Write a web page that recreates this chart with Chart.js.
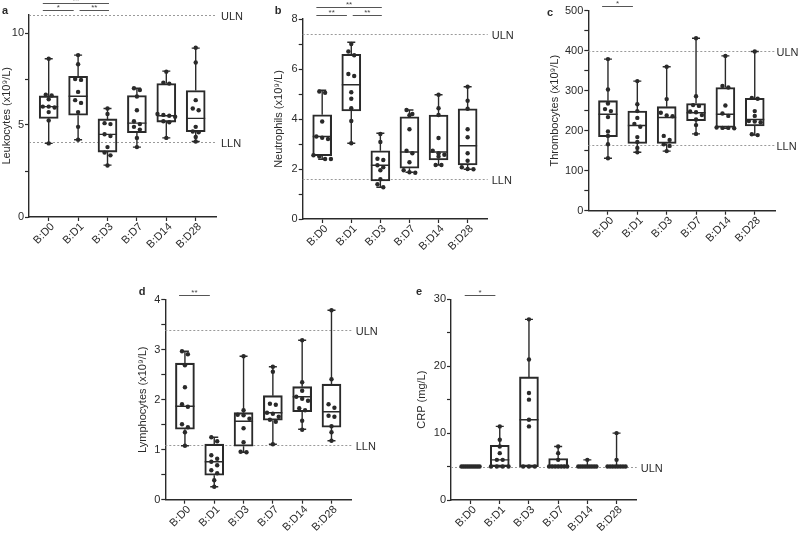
<!DOCTYPE html>
<html>
<head>
<meta charset="utf-8">
<script src="https://cdn.jsdelivr.net/npm/chart.js@4.4.1/dist/chart.umd.min.js"></script>
<style>
  html, body { margin: 0; padding: 0; background: #fff; }
  #wrap { position: relative; width: 798px; height: 533px; overflow: hidden; }
  canvas { position: absolute; }
</style>
</head>
<body>
<div id="wrap">
  <canvas id="panelA"></canvas>
  <canvas id="panelB"></canvas>
  <canvas id="panelC"></canvas>
  <canvas id="panelD"></canvas>
  <canvas id="panelE"></canvas>
</div>
<script>
// Categories (time points)
const categories = ['B:D0', 'B:D1', 'B:D3', 'B:D7', 'B:D14', 'B:D28'];

// Box stats per time point: [min, q1, median, q3, max]
const leukoStats = [[4.0, 5.36, 6.0, 6.58, 8.6], [4.2, 5.53, 6.56, 7.65, 8.8], [2.82, 3.53, 4.49, 5.33, 5.9],
                    [3.8, 4.58, 5.1, 6.6, 7.0], [4.3, 5.16, 5.5, 7.25, 7.93], [4.1, 4.64, 5.36, 6.87, 9.18]];
const leukoPoints = [
  [8.6, 6.65, 6.6, 6.4, 6.0, 6.0, 5.95, 5.7, 5.25, 4.0],
  [8.8, 8.3, 7.5, 7.45, 6.8, 6.35, 6.2, 5.7, 4.9, 4.2],
  [5.9, 5.6, 5.1, 5.05, 4.5, 4.4, 3.8, 3.5, 3.35, 2.8],
  [7.0, 6.9, 6.55, 5.8, 5.2, 5.05, 4.9, 4.75, 4.3, 3.8],
  [7.9, 7.3, 7.25, 5.6, 5.55, 5.5, 5.45, 5.2, 5.15, 4.3],
  [9.2, 8.4, 6.35, 5.9, 5.8, 4.9, 4.65, 4.6, 4.35, 4.1]
];

const neutroStats = [[2.39, 2.53, 3.3, 4.17, 5.15], [3.03, 4.32, 5.37, 6.59, 7.07], [1.27, 1.52, 2.15, 2.73, 3.43],
                     [1.87, 2.03, 2.68, 4.09, 4.36], [2.16, 2.36, 2.68, 4.16, 4.97], [1.99, 2.16, 2.93, 4.41, 5.29]];
const neutroPoints = [
  [5.1, 5.05, 3.9, 3.3, 3.25, 3.2, 2.55, 2.5, 2.4, 2.4],
  [7.0, 6.7, 6.55, 5.8, 5.72, 5.07, 4.81, 4.43, 3.92, 3.03],
  [3.4, 3.08, 2.41, 2.36, 2.15, 2.07, 1.95, 1.59, 1.39, 1.27],
  [4.36, 4.2, 4.15, 3.59, 2.73, 2.63, 2.27, 1.95, 1.87, 1.85],
  [4.97, 4.43, 4.16, 3.24, 2.73, 2.63, 2.57, 2.5, 2.16, 2.16],
  [5.29, 4.73, 4.41, 3.59, 3.27, 2.63, 2.33, 2.07, 2.0, 1.99]
];

const thromboStats = [[131, 185, 241, 275, 379], [146, 168, 213, 249, 324], [149, 168, 233, 260, 360],
                      [192, 225, 245, 268, 431], [206, 208, 241, 308, 387], [189, 212, 228, 281, 398]];
const thromboPoints = [
  [379, 303, 268, 254, 249, 234, 198, 187, 166, 131],
  [324, 266, 249, 232, 217, 210, 184, 172, 157, 146],
  [360, 279, 245, 238, 236, 187, 177, 166, 162, 149],
  [431, 286, 264, 262, 248, 246, 239, 228, 214, 192],
  [387, 312, 308, 263, 243, 237, 208, 207, 207, 206],
  [398, 282, 280, 249, 237, 224, 223, 221, 191, 189]
];

const lymphoStats = [[1.08, 1.41, 1.87, 2.73, 2.97], [0.26, 0.49, 0.76, 1.11, 1.25], [0.95, 1.07, 1.57, 1.74, 2.87],
                     [1.11, 1.59, 1.74, 2.08, 2.66], [1.41, 1.76, 2.06, 2.26, 3.19], [1.18, 1.45, 1.76, 2.31, 3.79]];
const lymphoPoints = [
  [2.97, 2.91, 2.69, 2.25, 1.91, 1.86, 1.51, 1.45, 1.35, 1.08],
  [1.25, 1.17, 0.89, 0.82, 0.76, 0.69, 0.59, 0.53, 0.39, 0.26],
  [2.87, 1.79, 1.7, 1.69, 1.62, 1.43, 1.15, 0.96, 0.95],
  [2.66, 2.56, 1.92, 1.9, 1.74, 1.72, 1.66, 1.6, 1.56, 1.11],
  [3.19, 2.35, 2.18, 2.06, 2.02, 1.98, 1.83, 1.79, 1.58, 1.4],
  [3.79, 2.41, 1.91, 1.84, 1.68, 1.66, 1.47, 1.35, 1.18]
];

const crpStats = [[5, 5, 5, 5, 5], [5, 5, 6, 8.17, 11], [5, 5, 12, 18.4, 27],
                  [5, 5, 5, 6.2, 8], [5, 5, 5, 5, 6], [5, 5, 5, 5, 10]];
const crpPoints = [
  [5, 5, 5, 5, 5, 5, 5, 5, 5, 5],
  [11, 9, 8, 7, 6, 6, 5, 5, 5, 5],
  [27, 21, 16, 15, 12, 11, 5, 5, 5],
  [8, 7, 6, 5, 5, 5, 5, 5, 5, 5],
  [6, 5, 5, 5, 5, 5, 5, 5, 5, 5],
  [10, 6, 5, 5, 5, 5, 5, 5, 5, 5]
];

// Axis ticks and which of them carry a label
const leukoTicks = [0, 2.5, 5, 7.5, 10];
const leukoLabels = [0, 5, 10];
const neutroTicks = [0, 1, 2, 3, 4, 5, 6, 7, 8];
const neutroLabels = [0, 2, 4, 6, 8];
const thromboTicks = [0, 50, 100, 150, 200, 250, 300, 350, 400, 450, 500];
const thromboLabels = [0, 100, 200, 300, 400, 500];
const lymphoTicks = [0, 0.5, 1, 1.5, 2, 2.5, 3, 3.5, 4];
const lymphoLabels = [0, 1, 2, 3, 4];
const crpTicks = [0, 5, 10, 15, 20, 25, 30];
const crpLabels = [0, 10, 20, 30];

// Reference limits (upper / lower limit of normal)
const leukoLimits = [[11, 'ULN'], [4.1, 'LLN']];
const neutroLimits = [[7.4, 'ULN'], [1.6, 'LLN']];
const thromboLimits = [[400, 'ULN'], [165, 'LLN']];
const lymphoLimits = [[3.4, 'ULN'], [1.1, 'LLN']];
const crpLimits = [[5, 'ULN']];

// Significance brackets: [from, to, label, level]
const leukoSig = [[0, 1, '*', 0], [1, 2, '**', 0], [0, 2, '**', 1]];
const neutroSig = [[0, 1, '**', 0], [1, 2, '**', 0], [0, 2, '**', 1]];
const thromboSig = [[0, 1, '*', 0]];
const lymphoSig = [[0, 1, '**', 0]];
const crpSig = [[0, 1, '*', 0]];

const ink = '#2a2a2a';
const fontFamily = "'Liberation Sans', Arial, Helvetica, sans-serif";

// spread points with (nearly) equal values sideways, like a scatter dot plot
function spreadPoints(values, range) {
  const sorted = values.slice().sort((a, b) => b - a);
  const out = [];
  let k = 0;
  while (k < sorted.length) {
    let j = k;
    while (j + 1 < sorted.length && sorted[k] - sorted[j + 1] < range * 0.022) j++;
    const n = j - k + 1;
    const step = n > 1 ? Math.min(0.2, 0.62 / (n - 1)) : 0;
    for (let m = 0; m < n; m++) out.push({ off: (m - (n - 1) / 2) * step, v: sorted[k + m] });
    k = j + 1;
  }
  return out;
}

function overlayPlugin(p) {
  return {
    id: 'overlay_' + p.id,
    beforeDatasetsDraw(chart) {
      const { ctx, chartArea, scales } = chart;
      ctx.save();
      ctx.strokeStyle = '#9a9a9a';
      ctx.lineWidth = 1;
      ctx.setLineDash([2, 2]);
      ctx.fillStyle = ink;
      ctx.font = '11px ' + fontFamily;
      ctx.textBaseline = 'middle';
      p.limits.forEach(([v, label]) => {
        const y = Math.round(scales.y.getPixelForValue(v)) + 0.5;
        ctx.beginPath();
        ctx.moveTo(chartArea.left, y);
        ctx.lineTo(chartArea.right, y);
        ctx.stroke();
        ctx.fillText(label, chartArea.right + p.g.lgap, y + 1);
      });
      ctx.restore();
    },
    afterDatasetDraw(chart, args) {
      if (args.index !== 0) return;
      const { ctx, scales } = chart;
      ctx.save();
      ctx.strokeStyle = ink;
      ctx.lineWidth = 1.4;
      p.stats.forEach((s, i) => {
        const x = scales.x.getPixelForValue(i);
        const yMin = scales.y.getPixelForValue(s[0]);
        const yQ1 = scales.y.getPixelForValue(s[1]);
        const yMed = scales.y.getPixelForValue(s[2]);
        const yQ3 = scales.y.getPixelForValue(s[3]);
        const yMax = scales.y.getPixelForValue(s[4]);
        ctx.beginPath();
        ctx.moveTo(x, yQ3); ctx.lineTo(x, yMax);
        ctx.moveTo(x - 4, yMax); ctx.lineTo(x + 4, yMax);
        ctx.moveTo(x, yQ1); ctx.lineTo(x, yMin);
        ctx.moveTo(x - 4, yMin); ctx.lineTo(x + 4, yMin);
        ctx.moveTo(x - 9.5, yMed); ctx.lineTo(x + 9.5, yMed);
        ctx.stroke();
      });
      ctx.restore();
    },
    afterDraw(chart) {
      const { ctx, chartArea, scales } = chart;
      ctx.save();
      // rotated category labels under each tick
      ctx.fillStyle = ink;
      ctx.font = '11px ' + fontFamily;
      ctx.textAlign = 'right';
      ctx.textBaseline = 'middle';
      categories.forEach((c, i) => {
        const x = scales.x.getPixelForValue(i);
        ctx.save();
        ctx.translate(x + 4, chartArea.bottom + 8);
        ctx.rotate(-Math.PI / 4);
        ctx.fillText(c, 0, 0);
        ctx.restore();
      });

      ctx.strokeStyle = '#555';
      ctx.fillStyle = '#444';
      ctx.lineWidth = 1;
      ctx.font = '8px ' + fontFamily;
      ctx.textAlign = 'center';
      ctx.textBaseline = 'bottom';
      p.sig.forEach(([i, j, label, level]) => {
        const x1 = scales.x.getPixelForValue(i === 0 ? i - 0.2 : i + 0.05);
        const x2 = scales.x.getPixelForValue(i === 0 && level === 0 ? j - 0.15 : j + 0.05);
        const y = Math.round(chartArea.top - 4.5 - level * 7.5) + 0.5;
        ctx.beginPath();
        ctx.moveTo(x1, y);
        ctx.lineTo(x2, y);
        ctx.stroke();
        ctx.fillText(label, (x1 + x2) / 2, y + 1);
      });
      ctx.fillStyle = ink;
      ctx.font = 'bold 11px ' + fontFamily;
      ctx.textBaseline = 'middle';
      ctx.fillText(p.letter, p.g.lx, p.g.ly);
      ctx.restore();
    }
  };
}

function makePanel(p) {
  const g = p.g;
  const canvas = document.getElementById(p.id);
  canvas.width = g.w;
  canvas.height = g.h;
  canvas.style.left = g.left + 'px';
  canvas.style.top = g.top + 'px';

  const yRange = p.yTicks[p.yTicks.length - 1] - p.yTicks[0];
  const boxes = p.stats.map((s, i) => ({ x: i, y: [s[1], s[3]] }));
  const dots = [];
  p.points.forEach((vals, i) => {
    spreadPoints(vals, yRange).forEach(o => dots.push({ x: i + o.off, y: o.v }));
  });

  const tickFont = { family: fontFamily, size: 11 };

  new Chart(canvas, {
    type: 'bar',
    data: {
      datasets: [
        {
          type: 'bar',
          data: boxes,
          barThickness: 19,
          backgroundColor: 'rgba(0,0,0,0)',
          borderColor: ink,
          borderWidth: 1.4,
          borderSkipped: false,
          order: 2
        },
        {
          type: 'scatter',
          data: dots,
          pointRadius: 2.2,
          pointBackgroundColor: ink,
          pointBorderWidth: 0,
          order: 1
        }
      ]
    },
    options: {
      responsive: false,
      animation: false,
      devicePixelRatio: 1,
      events: [],
      layout: { padding: { left: g.padL, right: g.w - g.cr, top: g.ct, bottom: 0 } },
      plugins: { legend: { display: false }, tooltip: { enabled: false } },
      scales: {
        x: {
          type: 'linear',
          min: -0.67,
          max: 5.69,
          offset: false,
          afterBuildTicks: s => { s.ticks = categories.map((c, i) => ({ value: i })); },
          afterFit: s => { s.height = g.h - g.cb; },
          ticks: { callback: () => '', autoSkip: false },
          grid: { drawOnChartArea: false, offset: false, tickLength: 4, color: ink, tickWidth: 1.2 },
          border: { color: ink, width: 1.4 }
        },
        y: {
          type: 'linear',
          min: p.yTicks[0],
          max: p.yMax,
          afterBuildTicks: s => { s.ticks = p.yTicks.map(v => ({ value: v })); },
          afterFit: s => { s.width = g.cl - g.padL; },
          ticks: {
            callback: v => (p.yLabels.includes(v) ? String(v) : ''),
            font: tickFont,
            color: ink,
            padding: 1
          },
          grid: { drawOnChartArea: false, tickLength: 4, color: ink, tickWidth: 1.2 },
          border: { color: ink, width: 1.4 },
          title: {
            display: true,
            text: p.title,
            font: { family: fontFamily, size: 11 },
            color: ink,
            padding: 0
          }
        }
      }
    },
    plugins: [overlayPlugin(p)]
  });
}

makePanel({
  id: 'panelA', letter: 'a', title: 'Leukocytes (x10\u2079/L)',
  stats: leukoStats, points: leukoPoints, yTicks: leukoTicks, yLabels: leukoLabels, yMax: 11,
  limits: leukoLimits, sig: leukoSig,
  g: { left: 0, top: 0, w: 265, h: 265, padL: 0, cl: 29, cr: 216, ct: 14.6, cb: 217, lx: 5, ly: 11, lgap: 5 }
});
makePanel({
  id: 'panelB', letter: 'b', title: 'Neutrophils (x10\u2079/L)',
  stats: neutroStats, points: neutroPoints, yTicks: neutroTicks, yLabels: neutroLabels, yMax: 8,
  limits: neutroLimits, sig: neutroSig,
  g: { left: 265, top: 0, w: 265, h: 265, padL: 7, cl: 37.7, cr: 222.7, ct: 19, cb: 219, lx: 13, ly: 11, lgap: 4 }
});
makePanel({
  id: 'panelC', letter: 'c', title: 'Thrombocytes (x10\u2079/L)',
  stats: thromboStats, points: thromboPoints, yTicks: thromboTicks, yLabels: thromboLabels, yMax: 500,
  limits: thromboLimits, sig: thromboSig,
  g: { left: 530, top: 0, w: 268, h: 265, padL: 18, cl: 58.3, cr: 245, ct: 10.7, cb: 210.7, lx: 20, ly: 13, lgap: 1.5 }
});
makePanel({
  id: 'panelD', letter: 'd', title: 'Lymphocytes (x10\u2079/L)',
  stats: lymphoStats, points: lymphoPoints, yTicks: lymphoTicks, yLabels: lymphoLabels, yMax: 4,
  limits: lymphoLimits, sig: lymphoSig,
  g: { left: 120, top: 270, w: 290, h: 263, padL: 16, cl: 45.3, cr: 231.7, ct: 29.7, cb: 229.7, lx: 22, ly: 22, lgap: 4 }
});
makePanel({
  id: 'panelE', letter: 'e', title: 'CRP (mg/L)',
  stats: crpStats, points: crpPoints, yTicks: crpTicks, yLabels: crpLabels, yMax: 30,
  limits: crpLimits, sig: crpSig,
  g: { left: 410, top: 270, w: 300, h: 263, padL: 5, cl: 41, cr: 226.7, ct: 29.3, cb: 230, lx: 9, ly: 22, lgap: 4 }
});
</script>
</body>
</html>
